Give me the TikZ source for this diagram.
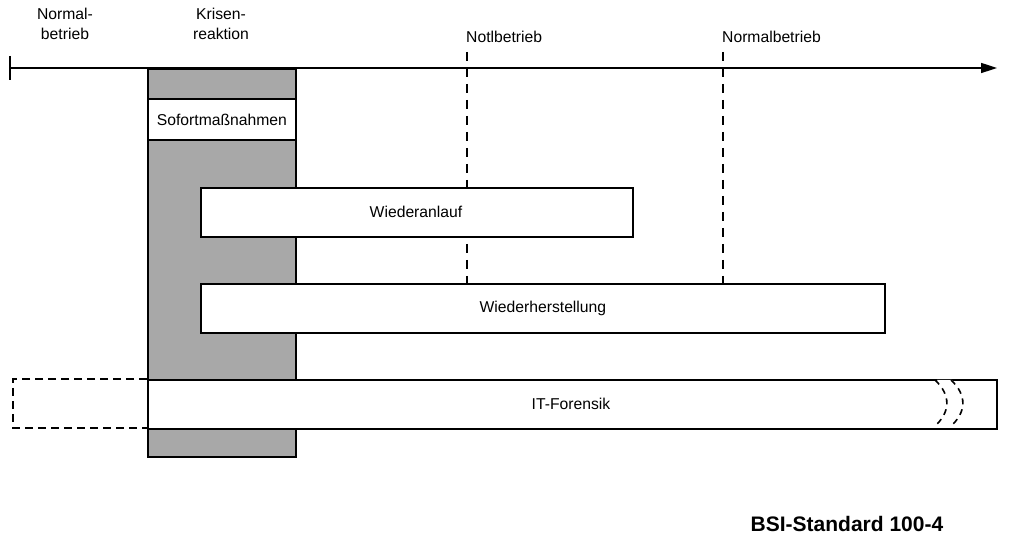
\documentclass[tikz,border=0pt]{standalone}
\usepackage{fontspec}
\setmainfont{Liberation Sans}
\usetikzlibrary{arrows.meta}
\begin{document}
\begin{tikzpicture}[x=1pt,y=-1pt,
  txt/.style={font=\fontsize{15.7}{18}\selectfont,inner sep=0pt},
  bar/.style={draw=black,line width=1.8pt,fill=white},
  vdash/.style={line width=1.6pt,dash pattern=on 9pt off 7pt},
  bdash/.style={line width=1.6pt,dash pattern=on 8pt off 5pt}]
\useasboundingbox (0,0) rectangle (1013,545);
% axis
\coordinate (axs) at (10,68);
\coordinate (axe) at (997,68);
\draw[line width=1.6pt,-{Triangle[length=16pt,width=10pt]}] (axs) -- (axe);
\draw[line width=1.6pt] (10,56) -- (10,80);
% crisis column
\node[draw=black,line width=1.8pt,fill=black!34,minimum width=148pt,minimum height=388pt,inner sep=0pt,anchor=north west] (kr) at (147,68) {};
\node[bar,minimum width=148pt,minimum height=41pt,inner sep=0pt,anchor=north west] (sofort) at (147,98) {};
\node[txt] at (sofort.center) {Sofortmaßnahmen};
% dashed verticals
\coordinate (n1t) at (467,52);
\coordinate (n2t) at (723,52);
\draw[vdash] (n1t) -- (467,283);
\draw[vdash] (n2t) -- (723,283);
% bars
\node[bar,minimum width=432pt,minimum height=49pt,inner sep=0pt,anchor=north west] (wa) at (200,187) {};
\node[txt] at (416,212) {Wiederanlauf};
\node[bar,minimum width=684pt,minimum height=49pt,inner sep=0pt,anchor=north west] (wh) at (200,283) {};
\node[txt] at (wh.center) {Wiederherstellung};
\node[bar,minimum width=849pt,minimum height=49pt,inner sep=0pt,anchor=north west] (itf) at (147,379) {};
\node[txt] at (571,404) {IT-Forensik};
\draw[bdash] (147,379) -- (13,379) -- (13,428) -- (147,428);
% break marks
\fill[white] (937,380) .. controls (950,395) and (950,412) .. (936,427) -- (951,427) .. controls (965,412) and (965,395) .. (952,380) -- cycle;
\draw[line width=1.6pt,dash pattern=on 6pt off 5pt] (935,380) .. controls (951,395) and (951,412) .. (934,427);
\draw[line width=1.6pt,dash pattern=on 6pt off 5pt] (951,380) .. controls (967,395) and (967,412) .. (950,427);
% labels
\node[txt,align=center,font=\fontsize{15.7}{20}\selectfont] (l1) at (65,24) {Normal-\\betrieb};
\node[txt,align=center,font=\fontsize{15.7}{20}\selectfont] (l2) at (221,24) {Krisen-\\reaktion};
\node[txt,anchor=west] (l3) at (466,37) {Notlbetrieb};
\node[txt,anchor=west] (l4) at (722,37) {Normalbetrieb};
\node[font=\bfseries\fontsize{21}{24}\selectfont,inner sep=0pt] (bsi) at (847,524) {BSI-Standard 100-4};
\end{tikzpicture}
\end{document}
